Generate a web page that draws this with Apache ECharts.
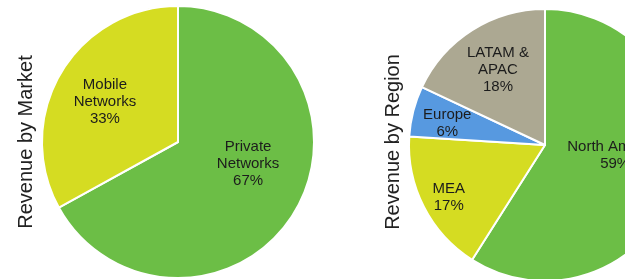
<!DOCTYPE html>
<html>
<head>
<meta charset="utf-8">
<script src="https://cdn.jsdelivr.net/npm/echarts@6/dist/echarts.min.js"></script>
<style>
  html, body { margin: 0; padding: 0; background: #fff; }
  #chart { width: 625px; height: 279px; }
</style>
</head>
<body>
<div id="chart"></div>
<script>
// data
const marketNames = ["Private\nNetworks", "Mobile\nNetworks"];
const marketValues = [67, 33];
const regionNames = ["North America", "MEA", "Europe", "LATAM &\nAPAC"];
const regionValues = [59, 17, 6, 18];

// colours and label nudges (not data)
const marketColors = ["#6cbe46", "#d5dc22"];
const regionColors = ["#6cbe46", "#d5dc22", "#5799e0", "#aca892"];
const marketOffsets = [[9, -14], [-12, -4]];
const regionOffsets = [[2, -9], [-33, 20], [-29, -4], [-9, -15]];

let chart = echarts.init(document.querySelector("#chart"));

function makeData(names, values, colors) {
    return names.map((n, i) => ({
        name: n,
        value: values[i],
        itemStyle: { color: colors[i] }
    }));
}

function pieSeries(center, names, values, colors, offsets) {
    return {
        type: "pie",
        center: center,
        radius: 136,
        startAngle: 90,
        clockwise: true,
        silent: true,
        itemStyle: { borderColor: "#fff", borderWidth: 2 },
        label: {
            show: true,
            position: "inside",
            formatter: "{b}\n{d}%",
            fontFamily: "Liberation Sans",
            fontSize: 15,
            lineHeight: 17,
            color: "#1c1c1c",
            align: "center"
        },
        labelLine: { show: false },
        labelLayout: function (params) {
            let o = offsets[params.dataIndex];
            return { dx: o[0], dy: o[1] };
        },
        data: makeData(names, values, colors)
    };
}

let option = {
    animation: false,
    backgroundColor: "#fff",
    graphic: [
        {
            type: "text",
            x: 26, y: 142,
            rotation: Math.PI / 2,
            style: {
                text: "Revenue by Market",
                fontFamily: "Liberation Sans",
                fontSize: 20,
                fill: "#222",
                align: "center",
                verticalAlign: "middle"
            }
        },
        {
            type: "text",
            x: 393, y: 142,
            rotation: Math.PI / 2,
            style: {
                text: "Revenue by Region",
                fontFamily: "Liberation Sans",
                fontSize: 20,
                fill: "#222",
                align: "center",
                verticalAlign: "middle"
            }
        }
    ],
    series: [
        pieSeries([178, 142], marketNames, marketValues, marketColors, marketOffsets),
        pieSeries([545, 145], regionNames, regionValues, regionColors, regionOffsets)
    ]
};

chart.setOption(option);
</script>
</body>
</html>
